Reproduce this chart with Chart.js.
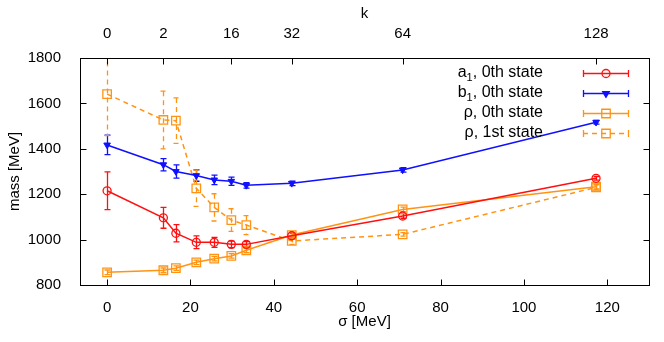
<!DOCTYPE html>
<html>
<head>
<meta charset="utf-8">
<script src="https://cdn.jsdelivr.net/npm/chart.js@4.4.1/dist/chart.umd.min.js"></script>
<style>
  html, body { margin: 0; padding: 0; background: #fff; }
  canvas { display: block; }
</style>
</head>
<body>
<canvas id="massChart" width="664" height="342"></canvas>
<script>
// sigma values (MeV) shared by all series
var sigma = [0, 13.5, 16.5, 21.4, 25.7, 29.8, 33.4, 44.3, 70.9, 117.3];

var a1Mass = [1215, 1096, 1028, 988, 988, 979, 979, 1017, 1104, 1270];
var a1Err  = [83, 46, 38, 28, 22, 14, 12, 10, 10, 8];

var b1Mass = [1417, 1330, 1300, 1282, 1263, 1257, 1239, 1248, 1307, 1517];
var b1Err  = [43, 27, 29, 25, 21, 18, 12, 10, 10, 8];

var rho0Mass = [856, 865, 874, 900, 916, 928, 953, 1020, 1133, 1233];
var rho0Err  = [10, 10, 10, 10, 10, 10, 10, 10, 10, 10];

var rho1Mass = [1641, 1527, 1524, 1226, 1142, 1086, 1064, 994, 1023, 1230];
var rho1Err  = [183, 127, 100, 80, 60, 50, 42, 15, 8, 10];

// tick labels
var xTicks = [0, 20, 40, 60, 80, 100, 120];
var yTicks = [800, 1000, 1200, 1400, 1600, 1800];
var kTickPos = [0, 13.5, 29.8, 44.3, 70.9, 117.3];
var kTickLabels = ['0', '2', '16', '32', '64', '128'];

var RED = '#ff1010', BLUE = '#1010ff', ORANGE = '#ff9414';

Chart.defaults.font.family = "'Liberation Sans', Arial, sans-serif";
Chart.defaults.font.size = 15;
Chart.defaults.color = '#000';

function pts(ys) {
  return sigma.map(function (s, i) { return { x: s, y: ys[i] }; });
}

// vertical error bars, drawn under the lines and markers
var errorBars = {
  id: 'errorBars',
  beforeDatasetsDraw: function (chart) {
    var ctx = chart.ctx, xs = chart.scales.x, ys = chart.scales.y, a = chart.chartArea;
    ctx.save();
    ctx.beginPath();
    ctx.rect(a.left, a.top, a.right - a.left, a.bottom - a.top);
    ctx.clip();
    chart.data.datasets.forEach(function (ds) {
      ctx.strokeStyle = ds.borderColor;
      ctx.lineWidth = 1.3;
      ctx.setLineDash(ds.borderDash || []);
      ds.data.forEach(function (p, i) {
        var px = Math.round(xs.getPixelForValue(p.x)) + 0.5;
        var top = ys.getPixelForValue(p.y + ds.errors[i]);
        var bot = ys.getPixelForValue(p.y - ds.errors[i]);
        ctx.beginPath();
        ctx.moveTo(px, top); ctx.lineTo(px, bot);
        ctx.moveTo(px - 3, top); ctx.lineTo(px + 3, top);
        ctx.moveTo(px - 3, bot); ctx.lineTo(px + 3, bot);
        ctx.stroke();
      });
    });
    ctx.restore();
  }
};

// frame with inward ticks (gnuplot style)
var frame = {
  id: 'frame',
  afterDraw: function (chart) {
    var ctx = chart.ctx, a = chart.chartArea, xs = chart.scales.x, ys = chart.scales.y;
    var L = Math.round(a.left) + 0.5, R = Math.round(a.right) + 0.5;
    var T = Math.round(a.top) + 0.5, B = Math.round(a.bottom) + 0.5;
    ctx.save();
    ctx.strokeStyle = '#000';
    ctx.lineWidth = 1;
    ctx.strokeRect(L, T, R - L, B - T);
    ctx.beginPath();
    xTicks.forEach(function (v) {
      var px = Math.round(xs.getPixelForValue(v)) + 0.5;
      ctx.moveTo(px, B); ctx.lineTo(px, B - 6);
    });
    kTickPos.forEach(function (v) {
      var px = Math.round(xs.getPixelForValue(v)) + 0.5;
      ctx.moveTo(px, T); ctx.lineTo(px, T + 6);
    });
    yTicks.forEach(function (v) {
      var py = Math.round(ys.getPixelForValue(v)) + 0.5;
      ctx.moveTo(L, py); ctx.lineTo(L + 6, py);
      ctx.moveTo(R, py); ctx.lineTo(R - 6, py);
    });
    ctx.stroke();
    ctx.restore();
  }
};

// legend with error-bar samples, text right aligned
var legendBox = {
  id: 'legendBox',
  afterDraw: function (chart) {
    var ctx = chart.ctx;
    var names = [['a', '1', ', 0th state'], ['b', '1', ', 0th state'], ['\u03c1', '', ', 0th state'], ['\u03c1', '', ', 1st state']];
    var textRight = 543, x0 = 583, x1 = 629, y0 = 73, dy = 20;
    ctx.save();
    chart.data.datasets.forEach(function (ds, i) {
      var y = y0 + i * dy;
      var n = names[i];
      ctx.fillStyle = '#000';
      ctx.textBaseline = 'middle';
      ctx.textAlign = 'left';
      ctx.font = "16px 'Liberation Sans', Arial, sans-serif";
      var w1 = ctx.measureText(n[0]).width, w3 = ctx.measureText(n[2]).width;
      ctx.font = "11px 'Liberation Sans', Arial, sans-serif";
      var w2 = ctx.measureText(n[1]).width;
      var x = textRight - (w1 + w2 + w3);
      ctx.font = "16px 'Liberation Sans', Arial, sans-serif";
      ctx.fillText(n[0], x, y);
      ctx.font = "11px 'Liberation Sans', Arial, sans-serif";
      ctx.fillText(n[1], x + w1, y + 5);
      ctx.font = "16px 'Liberation Sans', Arial, sans-serif";
      ctx.fillText(n[2], x + w1 + w2, y);

      var yy = Math.round(y) + 0.5;
      ctx.strokeStyle = ds.borderColor;
      ctx.lineWidth = 1.3;
      ctx.setLineDash(ds.borderDash || []);
      ctx.beginPath();
      ctx.moveTo(x0, yy); ctx.lineTo(x1, yy);
      ctx.stroke();
      ctx.setLineDash([]);
      ctx.beginPath();
      ctx.moveTo(x0 + 0.5, yy - 3.5); ctx.lineTo(x0 + 0.5, yy + 3.5);
      ctx.moveTo(x1 - 0.5, yy - 3.5); ctx.lineTo(x1 - 0.5, yy + 3.5);
      ctx.stroke();
      ctx.fillStyle = ds.pointBackgroundColor;
      ctx.lineWidth = 1.3;
      Chart.helpers.drawPoint(ctx, {
        pointStyle: ds.pointStyle, rotation: ds.pointRotation || 0,
        radius: ds.pointRadius, borderWidth: 1.3
      }, (x0 + x1) / 2, yy);
    });
    ctx.restore();
  }
};

var ctx = document.getElementById('massChart').getContext('2d');
var myChart = new Chart(ctx, {
  type: 'line',
  data: {
    datasets: [
      {
        label: 'a1, 0th state',
        data: pts(a1Mass), errors: a1Err,
        borderColor: RED, borderWidth: 1.5,
        pointStyle: 'circle', pointRadius: 4, pointBorderWidth: 1.3,
        pointBackgroundColor: 'rgba(0,0,0,0)', pointBorderColor: RED
      },
      {
        label: 'b1, 0th state',
        data: pts(b1Mass), errors: b1Err,
        borderColor: BLUE, borderWidth: 1.5,
        pointStyle: 'triangle', pointRotation: 180, pointRadius: 3.8, pointBorderWidth: 1,
        pointBackgroundColor: BLUE, pointBorderColor: BLUE
      },
      {
        label: 'rho, 0th state',
        data: pts(rho0Mass), errors: rho0Err,
        borderColor: ORANGE, borderWidth: 1.5,
        pointStyle: 'rect', pointRadius: 6, pointBorderWidth: 1.3,
        pointBackgroundColor: 'rgba(0,0,0,0)', pointBorderColor: ORANGE
      },
      {
        label: 'rho, 1st state',
        data: pts(rho1Mass), errors: rho1Err,
        borderColor: ORANGE, borderWidth: 1.5, borderDash: [5, 4],
        pointStyle: 'rect', pointRadius: 6, pointBorderWidth: 1.3,
        pointBackgroundColor: 'rgba(0,0,0,0)', pointBorderColor: ORANGE
      }
    ]
  },
  options: {
    responsive: false,
    animation: false,
    layout: { padding: { left: 0, right: 15, top: 0, bottom: 0 } },
    plugins: { legend: { display: false }, tooltip: { enabled: false } },
    scales: {
      x: {
        type: 'linear', position: 'bottom', min: -6.5, max: 130,
        grid: { display: false }, border: { display: false },
        afterBuildTicks: function (s) { s.ticks = xTicks.map(function (v) { return { value: v }; }); },
        afterFit: function (s) { s.height = 57; },
        ticks: { padding: 6, maxRotation: 0, callback: function (v) { return String(v); } },
        title: { display: true, text: '\u03c3 [MeV]', padding: { top: 0, bottom: 11 } }
      },
      x2: {
        type: 'linear', position: 'top', min: -6.5, max: 130,
        grid: { display: false }, border: { display: false },
        afterBuildTicks: function (s) { s.ticks = kTickPos.map(function (v) { return { value: v }; }); },
        afterFit: function (s) { s.height = 58; },
        ticks: { padding: 7, maxRotation: 0, callback: function (v, i) { return kTickLabels[i]; } },
        title: { display: true, text: 'k', padding: { top: 5, bottom: 0 } }
      },
      y: {
        type: 'linear', min: 800, max: 1800,
        grid: { display: false }, border: { display: false },
        afterBuildTicks: function (s) { s.ticks = yTicks.map(function (v) { return { value: v }; }); },
        afterFit: function (s) { s.width = 80; },
        ticks: { padding: 11, callback: function (v) { return String(v); } },
        title: { display: true, text: 'mass [MeV]', padding: { top: 6, bottom: 0 } }
      }
    }
  },
  plugins: [errorBars, frame, legendBox]
});
</script>
</body>
</html>
